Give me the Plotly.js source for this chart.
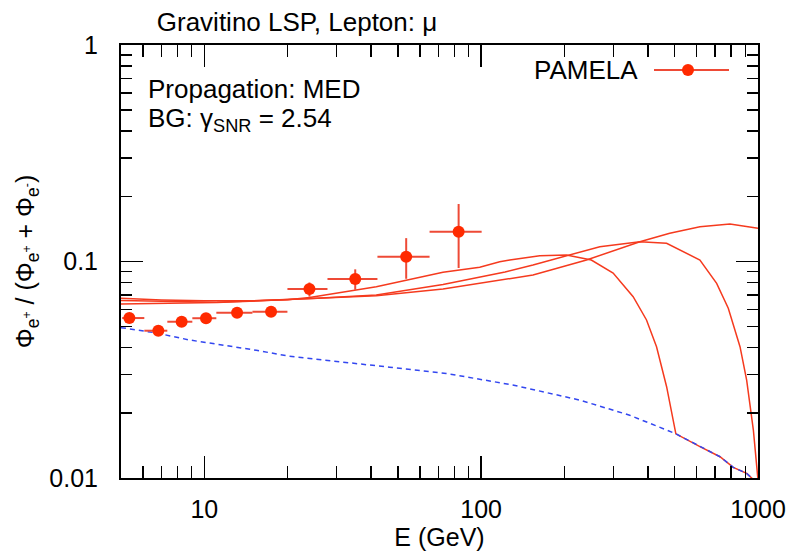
<!DOCTYPE html>
<html>
<head>
<meta charset="utf-8">
<script src="https://cdn.plot.ly/plotly-3.0.1.min.js"></script>
<style>html,body{margin:0;padding:0;background:#fff;}#chart{width:792px;height:558px;}</style>
</head>
<body>
<div id="chart"></div>
<script>
// PAMELA data
const pamelaE = [5.36, 6.82, 8.28, 10.14, 13.13, 17.42, 23.97, 35.08, 53.6, 82.9];
const pamelaRatio = [0.0548, 0.0479, 0.0527, 0.0547, 0.0580, 0.0586, 0.0746, 0.0830, 0.1052, 0.1373];
const binLow = [5.05, 6.07, 7.35, 9.05, 11.05, 14.92, 19.96, 27.85, 42.2, 65.1];
const binHigh = [6.07, 7.35, 9.05, 11.05, 14.92, 19.96, 27.85, 42.2, 65.1, 100.4];
const errUp = [0.0025, 0.0025, 0.0025, 0.0025, 0.003, 0.003, 0.0054, 0.009, 0.023, 0.047];
const errDown = [0.0025, 0.0025, 0.0025, 0.0025, 0.003, 0.003, 0.0058, 0.009, 0.022, 0.044];

// model curve A (endpoint ~500 GeV)
const curveA_E = [5, 7, 10, 15, 20, 24, 41.8, 72.8, 98.8, 116.7, 126.8, 162.8, 203.3, 250, 299.7, 354, 395.6, 430, 467.6, 505, 617, 729, 814, 910, 1000];
const curveA_R = [0.0676, 0.0664, 0.0658, 0.0658, 0.0665, 0.0682, 0.0764, 0.0891, 0.094, 0.0998, 0.1015, 0.1063, 0.1072, 0.1016, 0.0885, 0.0688, 0.0537, 0.0404, 0.0264, 0.0160, 0.01395, 0.01254, 0.0112, 0.0105, 0.0094];
// model curve B (endpoint ~1000 GeV)
const curveB_E = [5, 11.1, 25.6, 41.8, 72.8, 122, 153.9, 203.3, 268.3, 374.4, 467.5, 616.8, 709, 781, 861, 910, 962, 1000];
const curveB_R = [0.0661, 0.0648, 0.0676, 0.0700, 0.0783, 0.0895, 0.0964, 0.1063, 0.1171, 0.1234, 0.1213, 0.1016, 0.0793, 0.0608, 0.0404, 0.0283, 0.0167, 0.0098];
// model curve C (endpoint beyond range)
const curveC_E = [5, 11.1, 25.6, 41.8, 72.8, 126.8, 153.9, 240.2, 317, 374.4, 480, 617, 792, 1000];
const curveC_R = [0.0636, 0.0646, 0.0676, 0.0695, 0.0746, 0.0835, 0.0866, 0.1016, 0.115, 0.1234, 0.1349, 0.1447, 0.149, 0.1423];
// background
const bgE = [5, 6.69, 8.83, 15.4, 20.3, 26.8, 46.6, 74.8, 130, 227, 344, 505, 617, 729, 814, 910, 1000];
const bgR = [0.0495, 0.0468, 0.0434, 0.0389, 0.0365, 0.0352, 0.0325, 0.0304, 0.0269, 0.0229, 0.0195, 0.0160, 0.01395, 0.01254, 0.0112, 0.0105, 0.0094];

const xTickVals = [10, 100, 1000];
const xTickText = ['10', '100', '1000'];
const yTickVals = [0.01, 0.1, 1];
const yTickText = ['0.01', '0.1', '1'];
const xMinor = [6, 7, 8, 9, 20, 30, 40, 50, 60, 70, 80, 90, 200, 300, 400, 500, 600, 700, 800, 900];
const yMinor = [0.02, 0.03, 0.04, 0.05, 0.06, 0.07, 0.08, 0.09, 0.2, 0.3, 0.4, 0.5, 0.6, 0.7, 0.8, 0.9];

const red = '#f53a1e';
const font = 'Liberation Sans, Arial, sans-serif';

const traces = [
  {x: curveA_E, y: curveA_R, mode: 'lines', line: {color: red, width: 1.5}, showlegend: false, hoverinfo: 'skip'},
  {x: curveB_E, y: curveB_R, mode: 'lines', line: {color: red, width: 1.5}, showlegend: false, hoverinfo: 'skip'},
  {x: curveC_E, y: curveC_R, mode: 'lines', line: {color: red, width: 1.5}, showlegend: false, hoverinfo: 'skip'},
  {x: bgE, y: bgR, mode: 'lines', line: {color: '#3347f0', width: 1.5, dash: '5px,4px'}, showlegend: false, hoverinfo: 'skip'},
  {x: pamelaE, y: pamelaRatio, mode: 'markers', name: 'PAMELA', showlegend: false,
   marker: {color: '#ff2a00', size: 12},
   error_x: {type: 'data', symmetric: false,
             array: binHigh.map((h, i) => h - pamelaE[i]),
             arrayminus: binLow.map((l, i) => pamelaE[i] - l),
             color: '#ee4a36', thickness: 2, width: 0},
   error_y: {type: 'data', symmetric: false, array: errUp, arrayminus: errDown,
             color: '#ee4a36', thickness: 2, width: 0}}
];

const axisCommon = {
  type: 'log', showgrid: false, zeroline: false, showline: true, linecolor: '#000', linewidth: 2,
  mirror: 'allticks', ticks: 'inside', ticklen: 22, tickwidth: 1.5, tickcolor: '#000',
  tickmode: 'array', tickfont: {family: font, size: 25, color: '#000'}
};

const layout = {
  width: 792, height: 558,
  margin: {l: 121, r: 34, t: 45, b: 80},
  paper_bgcolor: '#fff', plot_bgcolor: '#fff',
  font: {family: font, size: 25, color: '#000'},
  title: {text: 'Gravitino LSP, Lepton: μ', x: 297 / 792, xanchor: 'center', xref: 'container',
          y: 1 - 22 / 558, yanchor: 'middle', yref: 'container', font: {family: font, size: 26, color: '#000'}},
  xaxis: Object.assign({}, axisCommon, {
    range: [Math.log10(5), 3], tickvals: xTickVals, ticktext: xTickText, ticklabelstandoff: 8,
    minor: {tickmode: 'array', tickvals: xMinor, ticks: 'inside', ticklen: 12, tickwidth: 1.5, tickcolor: '#000', showgrid: false},
    title: {text: 'E (GeV)', font: {family: font, size: 25, color: '#000'}, standoff: 6}
  }),
  yaxis: Object.assign({}, axisCommon, {
    range: [-2, 0], tickvals: yTickVals, ticktext: yTickText, ticklabelstandoff: 16,
    minor: {tickmode: 'array', tickvals: yMinor, ticks: 'inside', ticklen: 11, tickwidth: 1.5, tickcolor: '#000', showgrid: false},
    title: {text: 'Φ<sub>e<sup>+</sup></sub> / (Φ<sub>e<sup>+</sup></sub> + Φ<sub>e<sup>-</sup></sub>)', font: {family: font, size: 25, color: '#000'}, standoff: 8}
  }),
  annotations: [
    {text: 'Propagation: MED', xref: 'paper', yref: 'paper', x: (146 - 121) / 637, y: (478 - 89) / 433,
     xanchor: 'left', yanchor: 'middle', showarrow: false, font: {family: font, size: 26, color: '#000'}},
    {text: 'BG: γ<sub>SNR</sub> = 2.54', xref: 'paper', yref: 'paper', x: (146 - 121) / 637, y: (478 - 119) / 433,
     xanchor: 'left', yanchor: 'middle', showarrow: false, font: {family: font, size: 26, color: '#000'}},
    {text: 'PAMELA', xref: 'paper', yref: 'paper', x: (640 - 121) / 637, y: (478 - 70) / 433,
     xanchor: 'right', yanchor: 'middle', showarrow: false, font: {family: font, size: 26, color: '#000'}}
  ],
  shapes: [
    {type: 'line', xref: 'paper', yref: 'paper', x0: (654 - 121) / 637, x1: (729 - 121) / 637,
     y0: (478 - 70) / 433, y1: (478 - 70) / 433, line: {color: '#ee4a36', width: 2}},
    {type: 'circle', xref: 'paper', yref: 'paper', x0: (682 - 121) / 637, x1: (694 - 121) / 637,
     y0: (478 - 76) / 433, y1: (478 - 64) / 433, fillcolor: '#ff2a00', line: {color: '#ff2a00', width: 0}}
  ]
};

Plotly.newPlot('chart', traces, layout, {displayModeBar: false, staticPlot: true});
</script>
</body>
</html>
